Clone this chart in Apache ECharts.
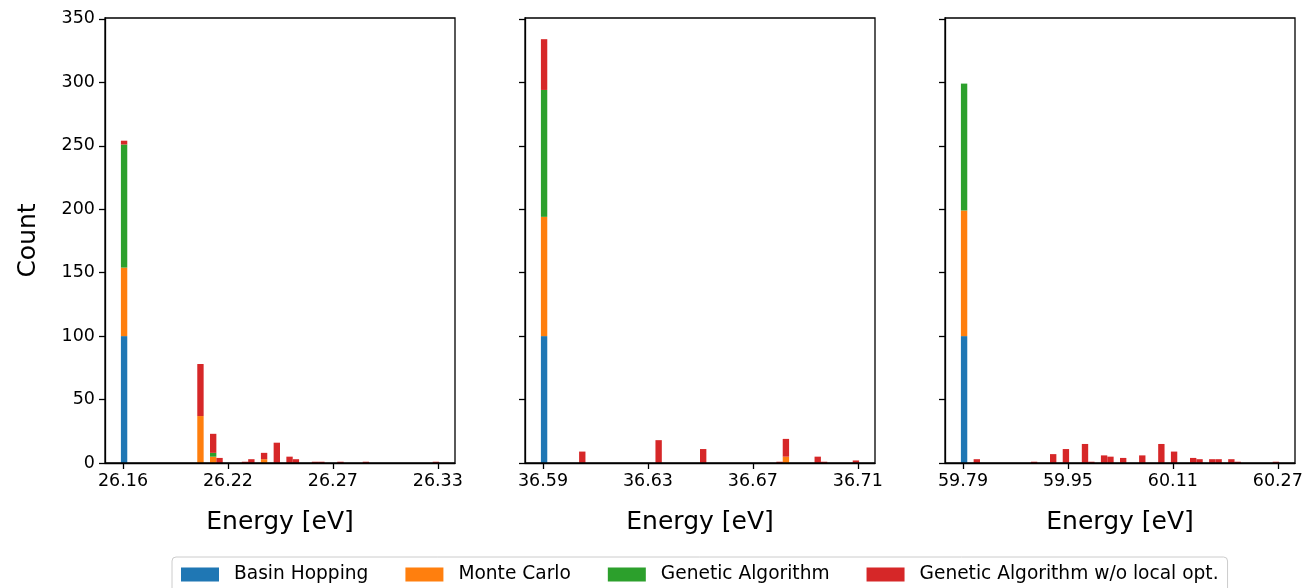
<!DOCTYPE html>
<html>
<head>
<meta charset="utf-8">
<script src="https://cdn.jsdelivr.net/npm/echarts@6/dist/echarts.min.js"></script>
<style>
html,body{margin:0;padding:0;background:#fff;}
#chart{width:1307px;height:588px;}
</style>
</head>
<body>
<div id="chart"></div>
<script>
// ---- DATA (histogram: 50 bins per panel; sparse bin index -> stacked counts) ----
const seriesNames = ['Basin Hopping', 'Monte Carlo', 'Genetic Algorithm', 'Genetic Algorithm w/o local opt.'];
const nBins = 50;

// Panel 1 (26.16 - 26.33 eV)
const bins1 = [0, 12, 14, 15, 19, 20, 22, 24, 26, 27, 30, 31, 34, 38, 49];
const bh1   = [100, 0, 0, 0, 0, 0, 0, 0, 0, 0, 0, 0, 0, 0, 0];
const mc1   = [54, 37, 5, 0, 0, 0, 3, 0, 0, 0, 0, 0, 0, 0, 0];
const ga1   = [97, 0, 3, 0, 0, 0, 0, 0, 0, 0, 0, 0, 0, 0, 0];
const gw1   = [3, 41, 15, 4, 1, 3, 5, 16, 5, 3, 1, 1, 1, 1, 1];
const ticks1 = ['26.16', '26.22', '26.27', '26.33'];

// Panel 2 (36.59 - 36.71 eV)
const bins2 = [0, 6, 18, 25, 37, 38, 43, 44, 49];
const bh2   = [100, 0, 0, 0, 0, 0, 0, 0, 0];
const mc2   = [94, 0, 0, 0, 0, 5, 0, 0, 0];
const ga2   = [100, 0, 0, 0, 0, 0, 0, 0, 0];
const gw2   = [40, 9, 18, 11, 1, 14, 5, 1, 2];
const ticks2 = ['36.59', '36.63', '36.67', '36.71'];

// Panel 3 (59.79 - 60.27 eV)
const bins3 = [0, 2, 11, 14, 16, 19, 20, 22, 23, 25, 28, 31, 33, 36, 37, 39, 40, 42, 43, 49];
const bh3   = [100, 0, 0, 0, 0, 0, 0, 0, 0, 0, 0, 0, 0, 0, 0, 0, 0, 0, 0, 0];
const mc3   = [99, 0, 0, 0, 0, 0, 0, 0, 0, 0, 0, 0, 0, 0, 0, 0, 0, 0, 0, 0];
const ga3   = [100, 0, 0, 0, 0, 0, 0, 0, 0, 0, 0, 0, 0, 0, 0, 0, 0, 0, 0, 0];
const gw3   = [0, 3, 1, 7, 11, 15, 1, 6, 5, 4, 6, 15, 9, 4, 3, 3, 3, 3, 1, 1];
const ticks3 = ['59.79', '59.95', '60.11', '60.27'];

// tick positions in bin units (0 = left edge of first bin, 50 = right edge of last bin)
const tickPos = [0.33, 16.82, 33.31, 49.8];
const yTicks = [0, 50, 100, 150, 200, 250, 300, 350];

// ---- CHART ----
const colors = ['#1f77b4', '#ff7f0e', '#2ca02c', '#d62728'];
const panels = [
  {bins: bins1, vals: [bh1, mc1, ga1, gw1], ticks: ticks1},
  {bins: bins2, vals: [bh2, mc2, ga2, gw2], ticks: ticks2},
  {bins: bins3, vals: [bh3, mc3, ga3, gw3], ticks: ticks3}
];
const categories = Array.from({length: nBins}, (_, i) => String(i));
const FONT = 'DejaVu Sans';
const PAD = 2.5;               // matplotlib 5% x-margin, in bins
const W = 350, TOP = 18, H = 445, YMAX = 350.7;
const gridLefts = [105, 525, 945];

const grids = [], xAxes = [], yAxes = [], series = [];
// frame grids (0..2): box, ticks, labels
panels.forEach((p, k) => {
  grids.push({left: gridLefts[k], top: TOP, width: W, height: H,
    show: true, borderColor: '#000', borderWidth: 1.3, backgroundColor: 'transparent', z: 5});
  xAxes.push({
    type: 'value', gridIndex: k, min: -PAD, max: nBins + PAD,
    name: 'Energy [eV]', nameLocation: 'middle', nameGap: 47,
    nameTextStyle: {fontFamily: FONT, fontSize: 25, color: '#000'},
    splitLine: {show: false},
    axisLine: {show: true, onZero: false, lineStyle: {color: '#000', width: 1.3}},
    axisTick: {show: true, length: 6, lineStyle: {color: '#000', width: 1.3}, customValues: tickPos},
    axisLabel: {show: true, margin: 9, fontFamily: FONT, fontSize: 17.5, color: '#000',
      customValues: tickPos,
      formatter: v => { const i = tickPos.findIndex(t => Math.abs(t - v) < 1e-6); return i >= 0 ? p.ticks[i] : ''; }}
  });
  yAxes.push({
    type: 'value', gridIndex: k, min: 0, max: YMAX,
    name: k === 0 ? 'Count' : '', nameLocation: 'middle', nameGap: 64,
    nameTextStyle: {fontFamily: FONT, fontSize: 25, color: '#000'},
    splitLine: {show: false},
    axisLine: {show: true, onZero: false, lineStyle: {color: '#000', width: 1.3}},
    axisTick: {show: true, length: 6, lineStyle: {color: '#000', width: 1.3}, customValues: yTicks},
    axisLabel: {show: k === 0, margin: 10, fontFamily: FONT, fontSize: 17.5, color: '#000', customValues: yTicks}
  });
});
// data grids (3..5): histogram bins only
panels.forEach((p, k) => {
  const binW = W / (nBins + 2 * PAD);
  grids.push({left: gridLefts[k] + PAD * binW, top: TOP, width: nBins * binW, height: H, show: false});
  xAxes.push({type: 'category', gridIndex: 3 + k, data: categories, boundaryGap: true, show: false});
  yAxes.push({type: 'value', gridIndex: 3 + k, min: 0, max: YMAX, show: false});
  p.vals.forEach((arr, s) => {
    const full = new Array(nBins).fill(0);
    p.bins.forEach((b, i) => { full[b] = arr[i]; });
    series.push({
      type: 'bar', name: seriesNames[s], xAxisIndex: 3 + k, yAxisIndex: 3 + k,
      stack: 'panel' + k, barCategoryGap: '0%', barWidth: '100%',
      itemStyle: {color: colors[s]},
      emphasis: {disabled: true},
      data: full
    });
  });
});

const chart = echarts.init(document.getElementById('chart'), null, {renderer: 'canvas'});
chart.setOption({
  animation: false,
  backgroundColor: '#fff',
  grid: grids, xAxis: xAxes, yAxis: yAxes, series: series,
  legend: {
    data: seriesNames, top: 557, left: 172,
    orient: 'horizontal', icon: 'rect', itemWidth: 38, itemHeight: 14, itemGap: 37,
    padding: [8, 9, 8, 9], borderColor: '#cccccc', borderWidth: 1, borderRadius: 4,
    backgroundColor: '#fff',
    textStyle: {fontFamily: FONT, fontSize: 18.6, color: '#000', padding: [0, 0, 0, 10]},
    selectedMode: false
  }
});
</script>
</body>
</html>
